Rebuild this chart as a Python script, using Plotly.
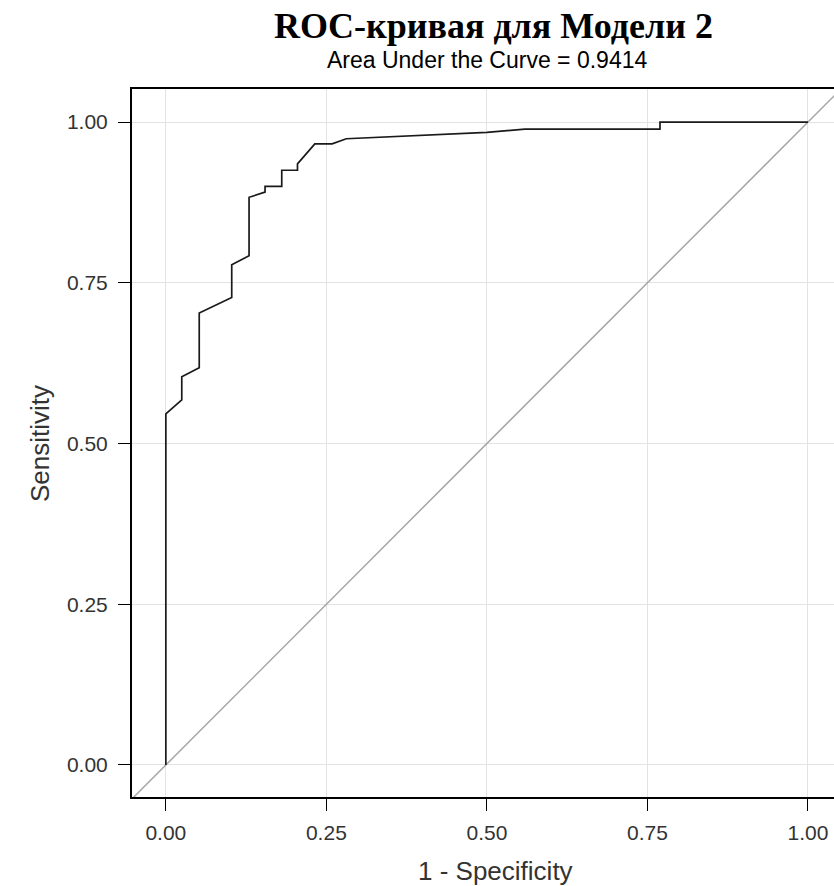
import plotly.graph_objects as go

# ROC curve points (1 - specificity, sensitivity)
fpr = [0.0, 0.0, 0.0248, 0.0248, 0.052, 0.052, 0.1026, 0.1026, 0.1296, 0.1296,
       0.1545, 0.1545, 0.1805, 0.1805, 0.205, 0.205, 0.232, 0.259, 0.281,
       0.50, 0.559, 0.7695, 0.7695, 1.0]
tpr = [0.0, 0.546, 0.568, 0.604, 0.618, 0.703, 0.727, 0.778, 0.792, 0.883,
       0.891, 0.900, 0.900, 0.925, 0.925, 0.935, 0.966, 0.966, 0.974,
       0.984, 0.989, 0.989, 1.0, 1.0]

diag = [-0.06, 1.06]
tick_vals = [0.0, 0.25, 0.5, 0.75, 1.0]
tick_text = ["0.00", "0.25", "0.50", "0.75", "1.00"]

title_text = "ROC-кривая для Модели 2"
subtitle_text = "Area Under the Curve = 0.9414"
x_title = "1 - Specificity"
y_title = "Sensitivity"

W, H = 834, 886
ML, MR, MT, MB = 132, 0, 89, 89
PW, PH = W - ML - MR, H - MT - MB

fig = go.Figure()
fig.add_trace(go.Scatter(x=diag, y=diag, mode="lines",
                         line=dict(color="#a6a6a6", width=1.5),
                         hoverinfo="skip", showlegend=False))
fig.add_trace(go.Scatter(x=fpr, y=tpr, mode="lines",
                         line=dict(color="#1a1a1a", width=1.7),
                         showlegend=False))

tick_font = dict(family="Liberation Sans, Arial, sans-serif", size=21, color="#333333")
title_font = dict(family="Liberation Sans, Arial, sans-serif", size=26, color="#333333")

fig.update_layout(
    width=W, height=H,
    margin=dict(l=ML, r=MR, t=MT, b=MB, pad=0),
    paper_bgcolor="white", plot_bgcolor="white",
    xaxis=dict(range=[-0.0527, 1.0405], tickvals=tick_vals, ticktext=tick_text,
               showgrid=True, gridcolor="#e3e3e3", gridwidth=1,
               zeroline=False, showline=True, linecolor="black", linewidth=2,
               mirror=True, ticks="outside", ticklen=12, tickcolor="black",
               tickwidth=1.2, tickfont=tick_font, ticklabelstandoff=4,
               fixedrange=True),
    yaxis=dict(range=[-0.0498, 1.0514], tickvals=tick_vals, ticktext=tick_text,
               showgrid=True, gridcolor="#e3e3e3", gridwidth=1,
               zeroline=False, showline=True, linecolor="black", linewidth=2,
               mirror=False, ticks="outside", ticklen=12, tickcolor="black",
               tickwidth=1.2, tickfont=tick_font, ticklabelstandoff=6,
               fixedrange=True),
)

def px_x(p):
    return (p - ML) / PW

def px_y(p):
    return (H - MB - p) / PH

fig.add_annotation(text="<b>" + title_text + "</b>", xref="paper", yref="paper",
                   x=px_x(493), y=px_y(26), xanchor="center", yanchor="middle",
                   showarrow=False,
                   font=dict(family="Liberation Serif, Times New Roman, serif", size=36, color="black"))
fig.add_annotation(text=subtitle_text, xref="paper", yref="paper",
                   x=px_x(487), y=px_y(60), xanchor="center", yanchor="middle",
                   showarrow=False,
                   font=dict(family="Liberation Sans, Arial, sans-serif", size=23, color="black"))
fig.add_annotation(text=x_title, xref="paper", yref="paper",
                   x=px_x(495), y=px_y(871), xanchor="center", yanchor="middle",
                   showarrow=False, font=title_font)
fig.add_annotation(text=y_title, xref="paper", yref="paper",
                   x=px_x(40), y=px_y(444), xanchor="center", yanchor="middle",
                   showarrow=False, textangle=-90, font=title_font)

fig.write_html("out.html", config={"displayModeBar": False})
